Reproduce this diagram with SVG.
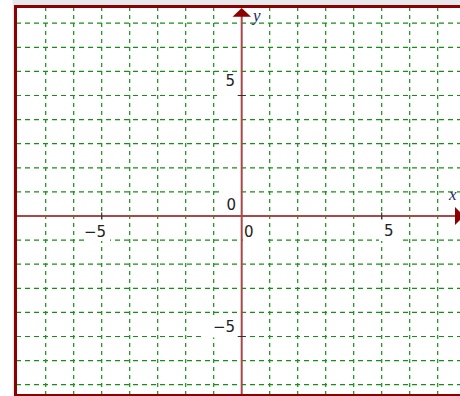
<svg xmlns="http://www.w3.org/2000/svg" width="460" height="396" viewBox="0 0 460 396">
<style>
.gv{stroke:#149014;stroke-width:1.2;stroke-dasharray:4,4;fill:none}
.gh{stroke:#149014;stroke-width:1.2;stroke-dasharray:5,4;fill:none}
.ax{stroke:#a84848;stroke-width:2;fill:none}
.tk{stroke:#333;stroke-width:1.2}
.num{font-family:"DejaVu Sans",Verdana,sans-serif;font-size:15px;fill:#222}
.var{font-family:"Liberation Serif","Times New Roman",serif;font-style:italic;font-size:17px;fill:#1c2a5c}
.bx{fill:#fff}
.arr{fill:#8b0000}
</style>
<rect x="0" y="0" width="460" height="396" fill="#fff"/>
<rect x="12.5" y="0" width="448" height="396" fill="#e6e9ec"/>
<rect x="15.5" y="6.5" width="446" height="388" fill="#fff"/>
<g id="grid">
<path class="gv" d="M45.7 7V395M73.7 7V395M101.7 7V395M129.7 7V395M157.7 7V395M185.7 7V395M213.7 7V395M269.7 7V395M297.7 7V395M325.7 7V395M353.7 7V395M381.7 7V395M409.7 7V395M437.7 7V395"/>
<path class="gh" d="M16 23.2H460M16 47.3H460M16 71.4H460M16 95.5H460M16 119.6H460M16 143.7H460M16 167.8H460M16 191.9H460M16 240.1H460M16 264.2H460M16 288.3H460M16 312.4H460M16 336.5H460M16 360.6H460M16 384.7H460"/>
</g>
<g id="label-boxes">
<rect class="bx" x="217" y="76" width="23" height="20.5"/>
<rect class="bx" x="219" y="191" width="21" height="22"/>
<rect class="bx" x="204" y="315" width="36" height="22.5"/>
<rect class="bx" x="84" y="219" width="26" height="22"/>
<rect class="bx" x="243" y="219" width="25" height="22"/>
<rect class="bx" x="379" y="219" width="22" height="22"/>
</g>
<g id="axes">
<path class="ax" d="M16 216H456"/>
<path class="ax" d="M241.7 16V395"/>
<polygon class="arr" points="241.7,8 232.5,16.8 251,16.8"/>
<polygon class="arr" points="464,216 455,207 455,225"/>
</g>
<g id="ticks">
<path class="tk" d="M101.7 212.5V219.5M381.7 212.5V219.5M237.7 95.5H245.7M237.7 336.5H245.7"/>
</g>
<g id="labels">
<text class="num" x="235" y="86" text-anchor="end">5</text>
<text class="num" x="236" y="210" text-anchor="end">0</text>
<text class="num" x="235" y="332" text-anchor="end">−5</text>
<text class="num" x="106" y="237" text-anchor="end">−5</text>
<text class="num" x="244" y="237">0</text>
<text class="num" x="384" y="236">5</text>
<text class="var" x="253" y="21">y</text>
<text class="var" x="449" y="200">x</text>
</g>
<g id="frame">
<path d="M15.5 396V6.5H460" fill="none" stroke="#8b0000" stroke-width="3"/>
<path d="M15.5 395H460" fill="none" stroke="#8b0000" stroke-width="2"/>
</g>
</svg>
